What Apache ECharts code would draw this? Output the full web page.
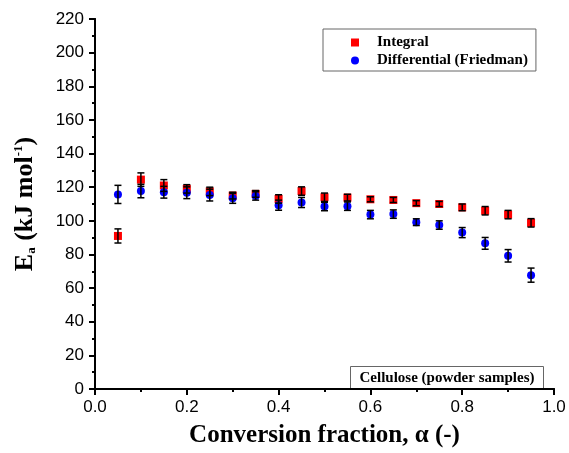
<!DOCTYPE html>
<html>
<head>
<meta charset="utf-8">
<script src="https://cdn.jsdelivr.net/npm/echarts@6/dist/echarts.min.js"></script>
<style>
  html, body { margin: 0; padding: 0; background: #fff; }
  #chart { width: 569px; height: 453px; }
</style>
</head>
<body>
<div id="chart"></div>
<script>
const alpha = [0.05, 0.1, 0.15, 0.2, 0.25, 0.3, 0.35, 0.4, 0.45, 0.5, 0.55, 0.6, 0.65, 0.7, 0.75, 0.8, 0.85, 0.9, 0.95];
const integralEa = [91, 124.5, 121, 119, 117.5, 115, 116, 113, 117.7, 114, 113.8, 112.8, 112.4, 110.5, 110, 108, 106, 103.7, 98.8];
const integralErr = [4.2, 4, 3.5, 2.5, 2.5, 2, 2, 2.5, 2.5, 2.5, 2, 1.5, 1.5, 1.5, 1.5, 2, 2.5, 2.5, 2.5];
const friedmanEa = [115.7, 117.7, 117, 116.7, 115.3, 113.4, 114.8, 109.3, 110.9, 108.5, 108.7, 103.7, 104, 99.2, 97.5, 93, 86.6, 79.2, 67.7];
const friedmanErr = [5.4, 4, 3.5, 3.5, 3.5, 3, 2.5, 3, 3, 2.5, 2.5, 2.5, 2.5, 2, 2.5, 3, 3.5, 3.7, 4.2];

const serif = 'Liberation Serif';
const sans = 'Liberation Sans';

const chart = echarts.init(document.getElementById('chart'));

const points = (ys) => alpha.map((a, i) => [a, ys[i]]);
const bars = (ys, err) => alpha.map((a, i) => [a, ys[i] - err[i], ys[i] + err[i]]);

// vertical error bar with caps
function errorBar(params, api) {
  const x = api.value(0);
  const lo = api.coord([x, api.value(1)]);
  const hi = api.coord([x, api.value(2)]);
  const cap = 3.5;
  const style = { stroke: '#000', lineWidth: 1.5 };
  return {
    type: 'group',
    children: [
      { type: 'line', shape: { x1: lo[0], y1: lo[1], x2: hi[0], y2: hi[1] }, style },
      { type: 'line', shape: { x1: lo[0] - cap, y1: lo[1], x2: lo[0] + cap, y2: lo[1] }, style },
      { type: 'line', shape: { x1: hi[0] - cap, y1: hi[1], x2: hi[0] + cap, y2: hi[1] }, style }
    ]
  };
}

const axisLine = { show: true, lineStyle: { color: '#000', width: 2 } };
const tickStyle = { width: 2, color: '#000' };

chart.setOption({
  animation: false,
  grid: { left: 95, right: 15, top: 19, bottom: 59 },
  legend: {
    data: ['Integral', 'Differential (Friedman)'],
    orient: 'vertical',
    left: 323,
    top: 29,
    padding: [6, 8, 3, 28],
    itemGap: 3,
    itemWidth: 8,
    itemHeight: 8,
    borderColor: '#666',
    borderWidth: 1,
    textStyle: { fontFamily: serif, fontWeight: 'bold', fontSize: 15, color: '#000', padding: [0, 0, 0, 13] }
  },
  xAxis: [{
    type: 'value', min: 0, max: 1, interval: 0.2,
    axisLine,
    axisTick: { length: 6, lineStyle: tickStyle },
    minorTick: { show: true, splitNumber: 2, length: 3, lineStyle: tickStyle },
    splitLine: { show: false },
    axisLabel: { fontFamily: sans, fontSize: 17, color: '#000', margin: 10, formatter: v => v.toFixed(1) },
    name: 'Conversion fraction, α (-)',
    nameLocation: 'middle',
    nameGap: 34,
    nameTextStyle: { fontFamily: serif, fontWeight: 'bold', fontSize: 25, color: '#000' }
  }, {
    type: 'value', min: 0, max: 1, interval: 0.2, position: 'top',
    axisLine,
    axisTick: { inside: true, length: 6, lineStyle: tickStyle },
    minorTick: { show: true, splitNumber: 2, length: 3, lineStyle: tickStyle },
    splitLine: { show: false },
    axisLabel: { show: false }
  }],
  yAxis: [{
    type: 'value', min: 0, max: 220, interval: 20,
    axisLine,
    axisTick: { length: 6, lineStyle: tickStyle },
    minorTick: { show: true, splitNumber: 2, length: 3, lineStyle: tickStyle },
    splitLine: { show: false },
    axisLabel: { fontFamily: sans, fontSize: 17, color: '#000', margin: 11 },
    name: '{b|E}{sub|a}{b| (kJ mol}{sup|-1}{b|)}',
    nameLocation: 'middle',
    nameGap: 57,
    nameTextStyle: {
      rich: {
        b: { fontFamily: serif, fontWeight: 'bold', fontSize: 26, color: '#000' },
        sub: { fontFamily: serif, fontWeight: 'bold', fontSize: 13, color: '#000', verticalAlign: 'bottom', padding: [12, 0, 0, 0] },
        sup: { fontFamily: serif, fontWeight: 'bold', fontSize: 13, color: '#000', verticalAlign: 'top', padding: [0, 0, 12, 0] }
      }
    }
  }, {
    type: 'value', min: 0, max: 220, interval: 20, position: 'right',
    axisLine,
    axisTick: { inside: true, length: 6, lineStyle: tickStyle },
    minorTick: { show: true, splitNumber: 2, length: 3, lineStyle: tickStyle },
    splitLine: { show: false },
    axisLabel: { show: false }
  }],
  series: [
    {
      name: 'Integral', type: 'scatter', symbol: 'rect', symbolSize: 8,
      itemStyle: { color: '#ff0000', opacity: 1 }, data: points(integralEa), z: 2
    },
    {
      name: 'Differential (Friedman)', type: 'scatter', symbol: 'circle', symbolSize: 8,
      itemStyle: { color: '#0000ff', opacity: 1 }, data: points(friedmanEa), z: 3
    },
    { type: 'custom', renderItem: errorBar, data: bars(integralEa, integralErr), z: 4 },
    { type: 'custom', renderItem: errorBar, data: bars(friedmanEa, friedmanErr), z: 4 }
  ],
  graphic: [{
    type: 'group',
    left: 350,
    top: 366,
    children: [
      { type: 'rect', shape: { x: 0, y: 0, width: 193, height: 22 }, style: { fill: '#fff', stroke: '#666', lineWidth: 1 } },
      { type: 'text', x: 96.5, y: 11.5, style: { text: 'Cellulose (powder samples)', fontFamily: serif, fontWeight: 'bold', fontSize: 15, fill: '#000', align: 'center', verticalAlign: 'middle' } }
    ]
  }]
});
</script>
</body>
</html>
